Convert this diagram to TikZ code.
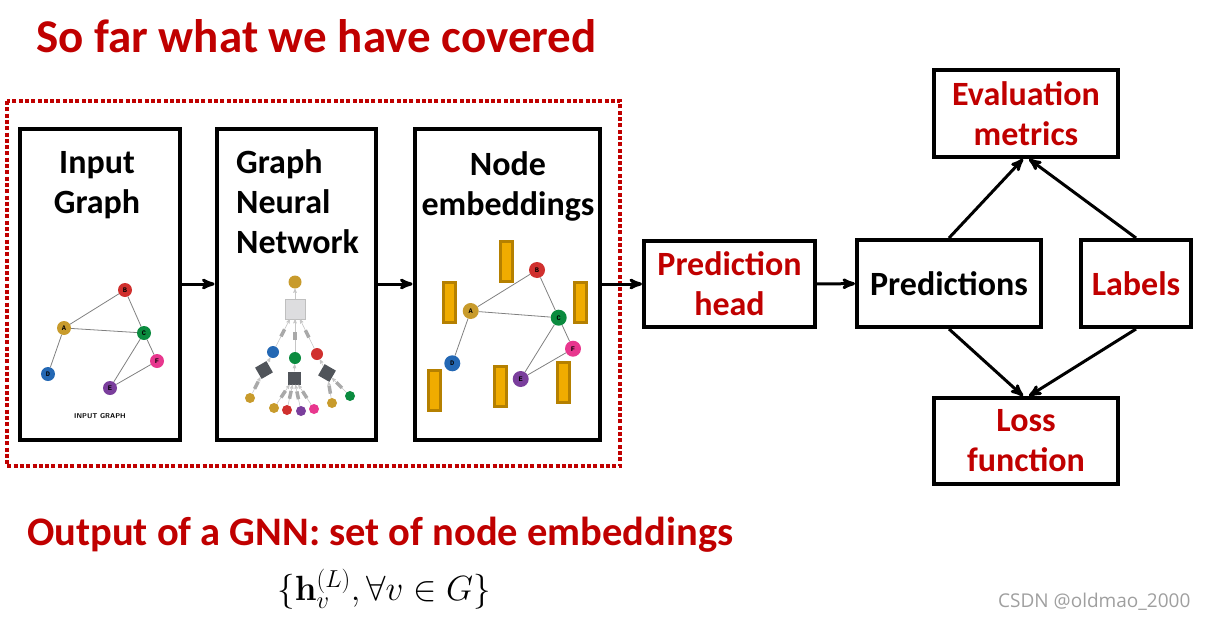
\RequirePackage{fix-cm}
\documentclass[tikz,border=0pt]{standalone}
\usepackage[no-math]{fontspec}
\usepackage{amsmath}
\setmainfont{Carlito}
\newfontfamily\markfont{Open Sans}
\newfontfamily\letterfont{Liberation Mono}
\usetikzlibrary{positioning}
\usetikzlibrary{fit}
\usetikzlibrary{arrows}
\usetikzlibrary{calc}
\definecolor{slidered}{HTML}{C00000}
\definecolor{ngold}{HTML}{C89B2C}
\definecolor{nred}{HTML}{D0302E}
\definecolor{ngreen}{HTML}{0B8B3F}
\definecolor{nblue}{HTML}{2468B4}
\definecolor{npurple}{HTML}{7A3E9C}
\definecolor{npink}{HTML}{E8378E}
\definecolor{barfill}{HTML}{F0AC00}
\definecolor{bardraw}{HTML}{B58000}
\definecolor{sqlight}{HTML}{DDDDDF}
\definecolor{sqdark}{HTML}{50545A}
\definecolor{msggray}{HTML}{A9A9A9}
\tikzset{box/.style={draw,line width=4pt,inner sep=0pt,align=center,font=\bfseries\fontsize{34}{40}\selectfont}}
\tikzset{boxtext/.style={inner sep=0pt,align=center,font=\bfseries\fontsize{34}{40}\selectfont}}
\tikzset{flow/.style={->,line width=3pt}}
\tikzset{dotbox/.style={draw=slidered,line width=4pt,dash pattern=on 4pt off 2.3pt}}
\tikzset{gn/.style={circle,inner sep=0pt,minimum size=14pt,font=\letterfont\bfseries\fontsize{7}{7}\selectfont}}
\tikzset{ge/.style={draw=gray,line width=0.8pt}}
\tikzset{bar/.style={draw=bardraw,fill=barfill,line width=3pt,minimum width=12pt,minimum height=40pt,inner sep=0pt}}
\tikzset{tn/.style={circle,inner sep=0pt,minimum size=12pt}}
\tikzset{leaf/.style={circle,inner sep=0pt,minimum size=10pt}}
\tikzset{dsq/.style={fill=sqdark,inner sep=0pt,minimum size=13pt}}
\tikzset{msg/.style={fill=msggray,inner sep=0pt,minimum width=8pt,minimum height=3.5pt,sloped}}
\tikzset{tl/.style={draw=gray!45,line width=0.6pt}}
\tikzset{>=stealth'}
\begin{document}
\begin{tikzpicture}[x=1pt,y=-1pt]
\useasboundingbox (0,0) rectangle (1207,621);

\node[anchor=base west,text=slidered,font=\bfseries\fontsize{47}{50}\selectfont,inner sep=0pt] (title) at (36,52) {So far what we have covered};

% pipeline boxes
\node[box,minimum width=160pt,minimum height=311pt] (ig) at (99.5,284) {};
\node[box,minimum width=159pt,minimum height=311pt] (gnn) at (296,284) {};
\node[box,minimum width=185pt,minimum height=311pt] (emb) at (507,284) {};
\node[boxtext,anchor=base] (igtext) at (97,213) {Input\\Graph};
\node[boxtext,anchor=base west,align=left] (gnntext) at (236,253) {Graph\\Neural\\Network};
\node[boxtext,anchor=base] (embtext) at (508,215) {Node\\embeddings};
\draw[dotbox] (7,101) rectangle (620,466);

\node[box,text=slidered,minimum width=171pt,minimum height=86pt] (head) at (729.5,284) {Prediction\\head};
\node[box,minimum width=184pt,minimum height=87pt] (pred) at (949,283.5) {Predictions};
\node[box,text=slidered,minimum width=110pt,minimum height=87pt] (lab) at (1136,283.5) {Labels};
\node[box,text=slidered,minimum width=184pt,minimum height=87pt] (eval) at (1026,113.5) {Evaluation\\metrics};
\node[box,text=slidered,minimum width=184pt,minimum height=86pt] (loss) at (1026,441) {Loss\\function};

\draw[flow] (ig) -- (gnn);
\draw[flow] (gnn) -- (emb);
\draw[flow] (emb) -- (head);
\draw[flow] (head) -- (pred);
\draw[flow] (pred.north) -- ([xshift=-3pt]eval.south);
\draw[flow] (lab.north) -- ([xshift=3pt]eval.south);
\draw[flow] (pred.south) -- ([xshift=-3pt]loss.north);
\draw[flow] (lab.south) -- ([xshift=3pt]loss.north);

% input graph
\node[gn,fill=ngold] (ia) at (64,328) {A};
\node[gn,fill=nred] (ib) at (125,290) {B};
\node[gn,fill=ngreen] (ic) at (144,333) {C};
\node[gn,fill=nblue] (id) at (48,374) {D};
\node[gn,fill=npurple] (ie) at (110,388) {E};
\node[gn,fill=npink] (if) at (157,361) {F};
\foreach \u/\v in {ia/ib,ia/ic,ib/ic,ia/id,ic/ie,ic/if,ie/if}
  \draw[ge] (\u) -- (\v);
\node[font=\sffamily\bfseries\fontsize{7}{7}\selectfont] (iglabel) at (100,416) {INPUT GRAPH};

% computation tree
\node[tn,fill=ngold,minimum size=13pt] (top) at (295,282) {};
\node[fill=sqlight,draw=gray!50,line width=0.5pt,minimum size=20pt,inner sep=0pt] (agg) at (295,309) {};
\node[tn,fill=nblue] (t1) at (273,352) {};
\node[tn,fill=ngreen] (t2) at (295,358) {};
\node[tn,fill=nred] (t3) at (317,354) {};
\node[dsq,rotate=30] (s1) at (264,370) {};
\node[dsq] (s2) at (294,378) {};
\node[dsq,rotate=-30] (s3) at (327,373) {};
\node[leaf,fill=ngold] (l1) at (250,398) {};
\node[leaf,fill=ngold] (m1) at (274,408) {};
\node[leaf,fill=nred] (m2) at (287,410) {};
\node[leaf,fill=npurple] (m3) at (301,411) {};
\node[leaf,fill=npink] (m4) at (314,409) {};
\node[leaf,fill=ngold] (r1) at (332,403) {};
\node[leaf,fill=ngreen] (r2) at (350,396) {};
\draw[tl,->] (agg) -- (top);
\foreach \c in {t1,t2,t3}
  \draw[tl,->] (\c) -- node[msg] {} (agg);
\draw[tl,->] (s1) -- (t1);
\draw[tl,->] (s2) -- (t2);
\draw[tl,->] (s3) -- (t3);
\draw[tl,->] (l1) -- node[msg] {} (s1);
\foreach \c in {m1,m2,m3,m4}
  \draw[tl,->] (\c) -- node[msg] {} (s2);
\foreach \c in {r1,r2}
  \draw[tl,->] (\c) -- node[msg] {} (s3);

% node embeddings
\node[bar] (e1) at (506,261) {};
\node[bar] (e2) at (449.7,302.7) {};
\node[bar] (e3) at (580.3,302.7) {};
\node[bar] (e4) at (434.7,390) {};
\node[bar] (e5) at (500.3,386.7) {};
\node[bar] (e6) at (563,382.3) {};
\node[gn,minimum size=16pt,fill=ngold] (ea) at (470.7,311) {A};
\node[gn,minimum size=16pt,fill=nred] (eb) at (537,270) {B};
\node[gn,minimum size=16pt,fill=ngreen] (ec) at (558.7,317.7) {C};
\node[gn,minimum size=16pt,fill=nblue] (ed) at (452.3,363.3) {D};
\node[gn,minimum size=16pt,fill=npurple] (ee) at (520.7,379) {E};
\node[gn,minimum size=16pt,fill=npink] (ef) at (573,348.7) {F};
\foreach \u/\v in {ea/eb,ea/ec,eb/ec,ea/ed,ec/ee,ec/ef,ee/ef}
  \draw[ge] (\u) -- (\v);

\node[anchor=base west,text=slidered,font=\bfseries\fontsize{40.5}{44}\selectfont,inner sep=0pt] (output) at (27,545) {Output of a GNN: set of node embeddings};
\node[anchor=base,font=\fontsize{35}{38}\selectfont,inner sep=0pt] (formula) at (384,600) {$\{\mathbf{h}_v^{(L)},\forall v\in G\}$};
\node[anchor=base west,text=gray!75,font=\markfont\fontsize{19}{19}\selectfont,inner sep=0pt] (mark) at (998,607) {CSDN @oldmao\_2000};
\end{tikzpicture}
\end{document}
